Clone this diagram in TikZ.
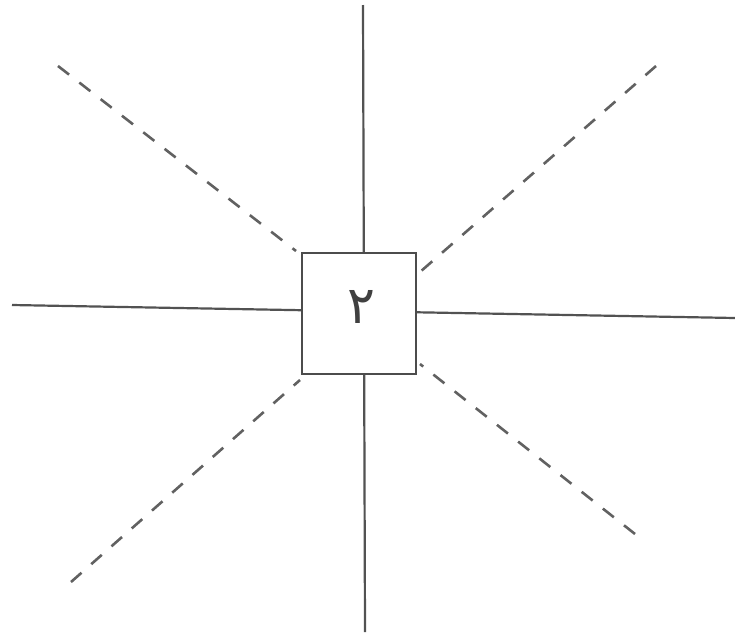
\documentclass[tikz,border=0pt]{standalone}
\usepackage{fontspec}
\newfontfamily\arabicfont[Script=Arabic]{DejaVu Sans}
\TeXXeTstate=1
\begin{document}
\begin{tikzpicture}[x=1pt,y=-1pt,
  solidline/.style={draw=black!68,line width=2.2pt},
  dashline/.style={draw=black!62,line width=2.6pt,dash pattern=on 14pt off 13pt},
  box/.style={draw=black!70,line width=2.4pt,fill=white,minimum width=114pt,minimum height=121pt,inner sep=0pt}]
\useasboundingbox (0,0) rectangle (735,643);
% end points
\coordinate (vt) at (363,5);
\coordinate (vb) at (365,632);
\coordinate (hl) at (12,305);
\coordinate (hr) at (735,318);
\coordinate (dtl) at (58,66);
\coordinate (dtle) at (296,251);
\coordinate (dtr) at (656,66);
\coordinate (dtre) at (420,272);
\coordinate (dbl) at (71,582);
\coordinate (dble) at (300,380);
\coordinate (dbr) at (635,534);
\coordinate (dbre) at (420,364);
% dashed diagonals
\draw[dashline] (dtl) -- (dtle);
\draw[dashline] (dtr) -- (dtre);
\draw[dashline] (dbl) -- (dble);
\draw[dashline] (dbr) -- (dbre);
% solid lines
\draw[solidline] (vt) -- (vb);
\draw[solidline] (hl) -- (hr);
% box
\node[box] (b) at (359,313.5) {};
\node[font=\arabicfont\fontsize{52}{58}\selectfont,text=black!75,inner sep=0pt] (d) at (361,307) {\beginR ٢\endR};
\end{tikzpicture}
\end{document}
